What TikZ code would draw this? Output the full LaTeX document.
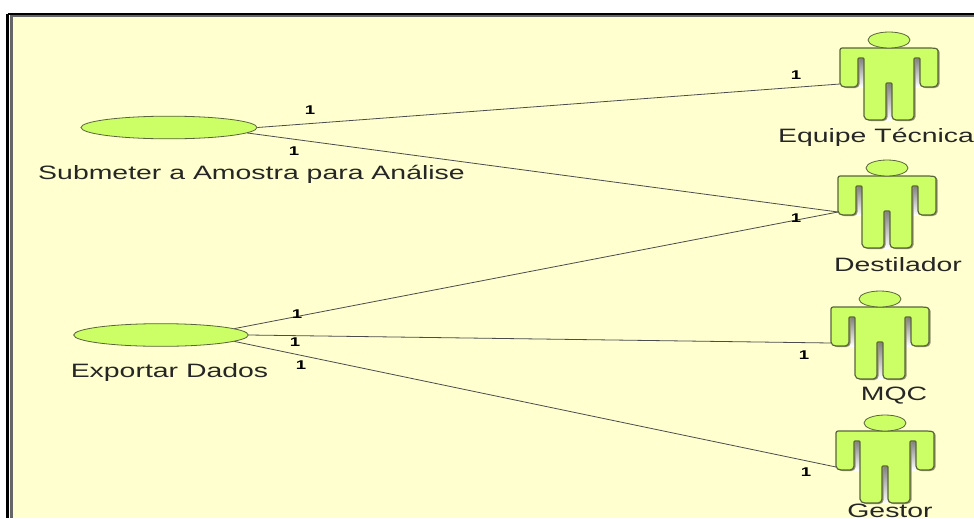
\documentclass[tikz,border=0pt]{standalone}
\usepackage{fontspec}
\setmainfont{Liberation Sans}
\usetikzlibrary{shapes.geometric}
\definecolor{paper}{RGB}{255,255,208}
\definecolor{lime}{RGB}{204,255,102}
\definecolor{edge}{RGB}{90,100,60}
\definecolor{shade}{RGB}{150,150,110}
\newcommand{\wide}[1]{\scalebox{1.47}[1]{#1}}
\newcommand{\actorpath}{(-49,10) to[out=90,in=180] (-42,8) -- (42,8) to[out=0,in=90] (49,11) -- (49,43) to[out=-90,in=0] (44,47) -- (35,47) to[out=180,in=-90] (31,43) -- (31,19) -- (30,18) -- (26,18) -- (25,19) -- (25,76) to[out=-90,in=0] (20,80) -- (7,80) to[out=180,in=-90] (3,76) -- (3,44) -- (2,43) -- (-2,43) -- (-3,44) -- (-3,76) to[out=-90,in=0] (-7,80) -- (-20,80) to[out=180,in=-90] (-25,76) -- (-25,19) -- (-26,18) -- (-30,18) -- (-31,19) -- (-31,43) to[out=-90,in=0] (-35,47) -- (-44,47) to[out=180,in=-90] (-49,43) -- cycle}
\tikzset{
	usecase/.style={ellipse,draw=edge,semithick,fill=lime,inner sep=0pt},
	caption/.style={font=\fontsize{14.5}{16}\selectfont,text=black!85,inner sep=0pt,anchor=base},
	mult/.style={font=\bfseries\fontsize{9.5}{10}\selectfont,inner sep=0pt},
	assoc/.style={draw=black!70,semithick},
	pics/actor/.style={code={
		\fill[shade] (-31,18) rectangle (-25,47);
		\fill[shade] (25,18) rectangle (31,47);
		\fill[shade] (-3,43) rectangle (3,80);
		\path[fill=shade,shift={(1.5,1)}] \actorpath;
		\path[fill=lime,draw=edge,line width=0.9pt] \actorpath;
		\path[fill=lime,draw=edge,semithick] (0,0) ellipse (21 and 8);
		\coordinate (-hand) at (-49,44);
	}}
}
\begin{document}
\begin{tikzpicture}[x=0.75pt,y=-0.75pt]
	\useasboundingbox (0,0) rectangle (974,518);
	%FRAME
	\fill[paper] (13,16) rectangle (974,518);
	\draw[black,line width=2.2pt] (7.5,14) -- (974,14);
	\draw[black,line width=2.2pt] (7.5,14) -- (7.5,518);
	\draw[black!60,line width=0.8pt] (10,16) -- (974,16);
	\draw[black!60,line width=2.2pt] (11.5,16) -- (11.5,518);

	%ACTORS
	\pic (equipe) at (889,40) {actor};
	\pic (destilador) at (887,168) {actor};
	\pic (mqc) at (880,299) {actor};
	\pic (gestor) at (885,423) {actor};

	%USE CASES
	\node[usecase,minimum width=132pt,minimum height=17pt] (submeter) at (169,127.5) {};
	\node[usecase,minimum width=131pt,minimum height=17pt] (exportar) at (161,335) {};

	%LABELS
	\node[caption] (submeterlabel) at (251.5,179) {\wide{Submeter a Amostra para Análise}};
	\node[caption] (exportarlabel) at (169.5,377) {\wide{Exportar Dados}};
	\node[caption] (equipelabel) at (876,142) {\wide{Equipe Técnica}};
	\node[caption] (destiladorlabel) at (898,271) {\wide{Destilador}};
	\node[caption] (mqclabel) at (894,400) {\wide{MQC}};
	\node[caption] (gestorlabel) at (890,517) {\wide{Gestor}};

	%CONNECTORS
	\draw[assoc] (submeter.east) -- (equipe-hand);
	\draw[assoc] (submeter.-4) -- (destilador-hand);
	\draw[assoc] (exportar.5) -- (destilador-hand);
	\draw[assoc] (exportar.east) -- (mqc-hand);
	\draw[assoc] (exportar.-5) -- (gestor-hand);

	%MULTIPLICITIES
	\node[mult] (m1) at (310,110) {\wide{1}};
	\node[mult] (m2) at (294,151) {\wide{1}};
	\node[mult] (m3) at (796,75) {\wide{1}};
	\node[mult] (m4) at (796,218) {\wide{1}};
	\node[mult] (m5) at (297,314) {\wide{1}};
	\node[mult] (m6) at (295,342) {\wide{1}};
	\node[mult] (m7) at (301,365) {\wide{1}};
	\node[mult] (m8) at (804,355) {\wide{1}};
	\node[mult] (m9) at (806,472) {\wide{1}};
\end{tikzpicture}
\end{document}
